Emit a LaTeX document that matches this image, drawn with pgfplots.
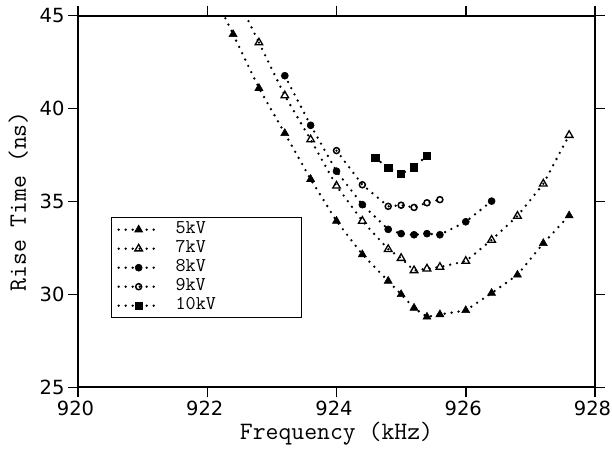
\documentclass[border=0pt]{standalone}
\usepackage{fontspec}
\usepackage{pgfplots}
\pgfplotsset{compat=1.18}
\newfontfamily\tickfont{DejaVu Sans}
\begin{document}
\begin{tikzpicture}
\useasboundingbox (-78pt,-61.7pt) rectangle (534pt,387.3pt);
\begin{axis}[
  at={(0pt,0pt)}, anchor=south west,
  scale only axis, width=517pt, height=371.6pt,
  xmin=920, xmax=928, ymin=25, ymax=45,
  xtick={920,922,924,926,928}, ytick={25,30,35,40,45},
  tick align=outside, tick pos=both, xticklabel pos=lower, yticklabel pos=left,
  major tick length=10pt,
  axis line style={line width=1.8pt},
  every tick/.style={line width=1.5pt, black},
  /pgf/number format/assume math mode=true,
  /pgf/number format/1000 sep={},
  tick label style={font=\tickfont\fontsize{19.5}{19.5}\selectfont},
  xticklabel style={inner xsep=0pt, xshift=-2.5pt},
  xlabel={Frequency (kHz)}, ylabel={Rise Time (ns)},
  every axis x label/.style={at={(axis description cs:0.5,-0.1418)}, anchor=base, font=\fontsize{25}{25}\selectfont\ttfamily},
  every axis y label/.style={at={(axis description cs:-0.1006,0.5)}, rotate=90, anchor=base, font=\fontsize{25}{25}\selectfont\ttfamily},
  dotstyle/.style={black, line width=2.6pt, line cap=round, dash pattern=on 0pt off 7pt},
  legend image code/.code={\draw[mark repeat=2,mark phase=2,#1] plot coordinates {(0pt,0pt) (20pt,0pt) (40pt,0pt)};},
  legend style={at={(axis description cs:0.0632,0.4583)}, anchor=north west, draw=black, line width=1.4pt, fill=white,
    inner xsep=6pt, inner ysep=2.5pt, row sep=0pt,
    font=\fontsize{19.5}{19}\selectfont\ttfamily,
    nodes={inner sep=0pt, text height=13.5pt, text depth=5.5pt}},
  legend cell align=left,
]
% extensions above the top of the axis
\addplot[dotstyle, forget plot] coordinates {(922.0,46.9) (922.4,44.0)};
\addplot[dotstyle, forget plot] coordinates {(922.4,46.4) (922.8,43.55)};

\addplot[dotstyle, mark=triangle*, mark size=4.6pt, mark options={solid, line width=0.6pt, fill=black}] coordinates {
(922.4,44.0) (922.8,41.1) (923.2,38.67) (923.6,36.2) (924.0,33.95) (924.4,32.15) (924.8,30.72) (925.0,30.0) (925.2,29.27) (925.4,28.79) (925.6,28.92) (926.0,29.14) (926.4,30.07) (926.8,31.05) (927.2,32.75) (927.6,34.24)};
\addlegendentry{\hspace*{15.7pt}\makebox[120pt][l]{5kV}}

\addplot[dotstyle, mark=triangle, mark size=4.4pt, mark options={solid, line width=1.3pt, fill=white}] coordinates {
(922.8,43.55) (923.2,40.7) (923.6,38.33) (924.0,35.84) (924.4,33.95) (924.8,32.43) (925.0,31.95) (925.2,31.29) (925.4,31.38) (925.6,31.47) (926.0,31.79) (926.4,32.93) (926.8,34.22) (927.2,35.95) (927.6,38.57)};
\addlegendentry{\hspace*{15.7pt}\makebox[120pt][l]{7kV}}

\addplot[dotstyle, mark=*, mark size=3.5pt, mark options={solid, line width=0.6pt, fill=black}] coordinates {
(923.2,41.77) (923.6,39.1) (924.0,36.63) (924.4,34.83) (924.8,33.5) (925.0,33.27) (925.2,33.21) (925.4,33.27) (925.6,33.21) (926.0,33.91) (926.4,35.02)};
\addlegendentry{\hspace*{15.7pt}\makebox[120pt][l]{8kV}}

\addplot[dotstyle, mark=o, mark size=3pt, mark options={solid, line width=1.5pt, fill=white}] coordinates {
(924.0,37.74) (924.4,35.9) (924.8,34.74) (925.0,34.8) (925.2,34.68) (925.4,34.93) (925.6,35.1)};
\addlegendentry{\hspace*{15.7pt}\makebox[120pt][l]{9kV}}

\addplot[dotstyle, mark=square*, mark size=3.6pt, mark options={solid, line width=0.6pt, fill=black}] coordinates {
(924.6,37.36) (924.8,36.8) (925.0,36.49) (925.2,36.84) (925.4,37.48)};
\addlegendentry{\hspace*{15.7pt}\makebox[120pt][l]{10kV}}
\end{axis}
\end{tikzpicture}
\end{document}
